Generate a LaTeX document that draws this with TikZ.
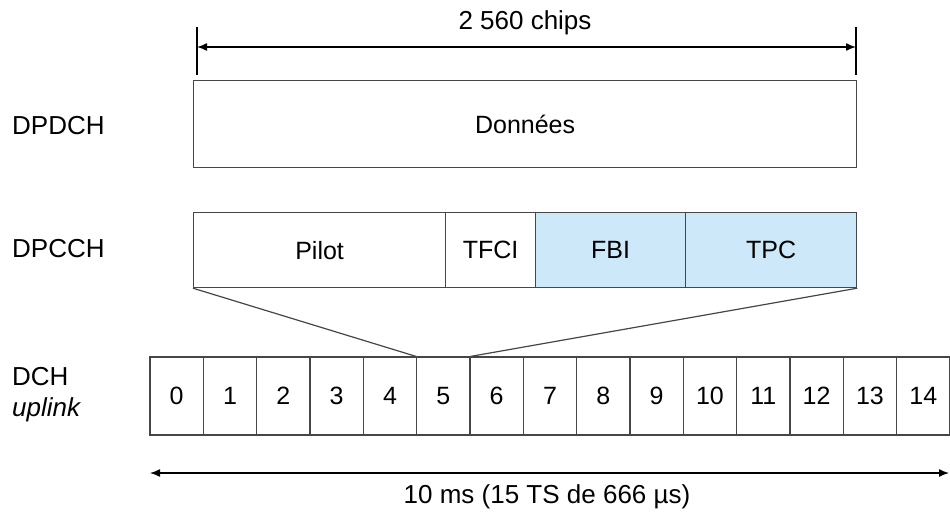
\documentclass[tikz,border=0pt]{standalone}
\usepackage{fontspec}
\setmainfont{Liberation Sans}
\usepackage{tikz}
\usetikzlibrary{calc, positioning, arrows.meta}
\usepackage{xcolor}
\definecolor{slotblue}{RGB}{205,232,248}
\definecolor{frameline}{RGB}{70,70,70}
\tikzset{
    fieldbox/.style={draw=frameline, line width=1.2pt, fill=white, minimum height=78pt, inner sep=0pt, anchor=north west, font=\fontsize{25}{30}\selectfont},
    slotbox/.style={draw=frameline, line width=1.2pt, fill=white, minimum width=53.33pt, minimum height=78pt, inner sep=0pt, font=\fontsize{25}{30}\selectfont},
    dimarrow/.style={{Latex[length=10pt,width=8pt]}-{Latex[length=10pt,width=8pt]}, line width=1.4pt, draw=black},
    chanlabel/.style={anchor=west, inner sep=0pt, font=\fontsize{26}{30}\selectfont}
}

\begin{document}
\begin{tikzpicture}[x=1pt,y=-1pt]
            \useasboundingbox (0,0) rectangle (950,514);
            % rows
            \node[fieldbox, minimum width=663pt, minimum height=87pt] (donnees) at (193,80) {Donn\'ees};
            \node[fieldbox, minimum width=252pt, minimum height=75pt] (pilot) at (193,212) {Pilot};
            \node[fieldbox, minimum width=90pt, minimum height=75pt] (tfci) at (445,212) {TFCI};
            \node[fieldbox, minimum width=150pt, minimum height=75pt, fill=slotblue] (fbi) at (535,212) {FBI};
            \node[fieldbox, minimum width=171pt, minimum height=75pt, fill=slotblue] (tpc) at (685,212) {TPC};
            \foreach \i in {0,...,14} {
                \node[slotbox] (slot\i) at (176.67+53.33*\i, 396) {\i};
            }
            % funnel
            \draw[draw=frameline, line width=1.2pt] (pilot.south west) -- (slot5.north west);
            \draw[draw=frameline, line width=1.2pt] (tpc.south east) -- (slot5.north east);
            % channel names
            \node[chanlabel] (dpdch) at (12,126) {DPDCH};
            \node[chanlabel] (dpcch) at (12,249) {DPCCH};
            \node[chanlabel] (dch) at (12,377) {DCH};
            \node[chanlabel] (uplink) at (12,410) {\itshape uplink};
            % dimensions
            \coordinate (chipl) at (197,47);
            \coordinate (chipr) at (856,47);
            \draw[line width=1.4pt] ($(chipl)+(0,-20)$) -- ($(chipl)+(0,28)$);
            \draw[line width=1.4pt] ($(chipr)+(0,-20)$) -- ($(chipr)+(0,28)$);
            \draw[dimarrow] (chipl) -- (chipr);
            \node[font=\fontsize{26}{30}\selectfont] (chips) at (525,23) {2 560 chips};
            \coordinate (framel) at (150,473);
            \coordinate (framer) at (949,473);
            \draw[dimarrow] (framel) -- (framer);
            \node[font=\fontsize{26}{30}\selectfont] (dur) at (547,497) {10 ms (15 TS de 666 \textmu s)};
        \end{tikzpicture}
\end{document}
